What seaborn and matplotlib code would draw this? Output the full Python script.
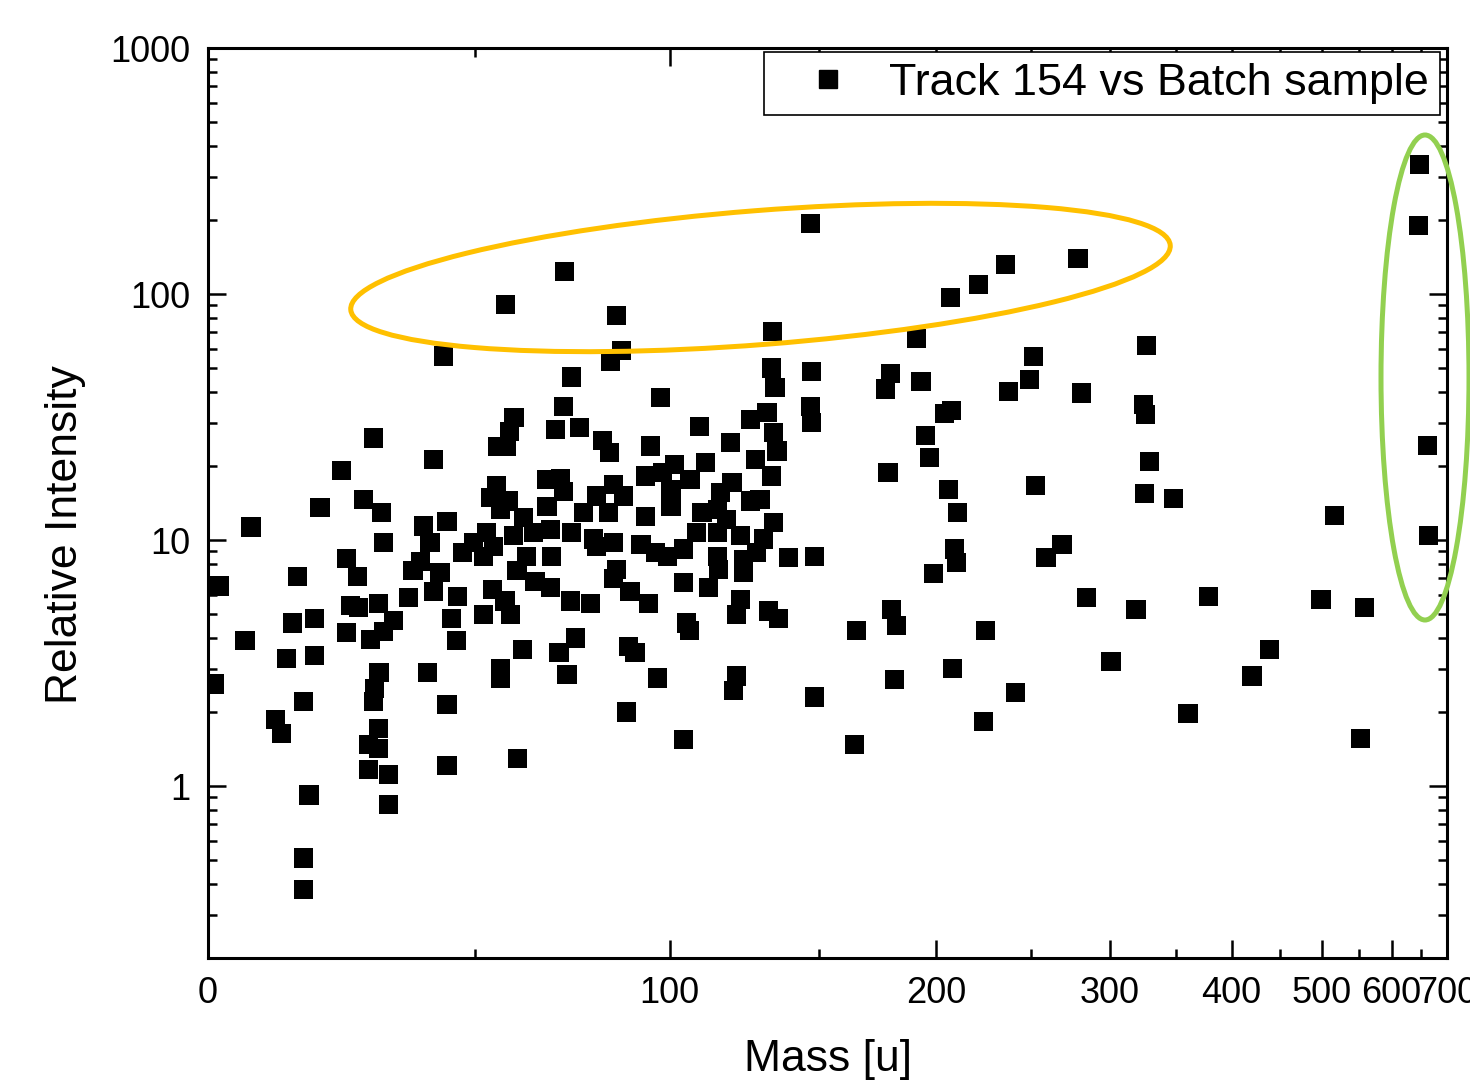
import numpy as np
import pandas as pd
import matplotlib
matplotlib.use("Agg")
import matplotlib.pyplot as plt
import seaborn as sns
from matplotlib.patches import Ellipse
from matplotlib.lines import Line2D
from matplotlib.ticker import FixedLocator, FixedFormatter, LogLocator, NullFormatter

# ---------------- data ----------------
series_label = "Track 154 vs Batch sample"
x_label = "Mass [u]"
y_label = "Relative Intensity"
x_ticks = [0, 100, 200, 300, 400, 500, 600, 700]
x_minor_ticks = [50, 150, 250, 350, 450, 550, 650]
y_ticks = [1, 10, 100, 1000]
y_tick_labels = ["1", "10", "100", "1000"]

# masses below 50 u
mass_a = [1.9, 1.0, 7.0, 6.0,
          29.0, 41.1, 23.0, 27.1, 30.6, 19.0, 31.0, 23.9, 25.9, 39.0, 44.0, 40.4,
          38.4, 36.9, 42.5, 41.1, 47.3, 46.2, 15.0, 36.0, 18.0, 14.1, 24.7, 26.1,
          30.0, 33.0, 31.0, 28.4, 23.9, 45.0, 46.1, 13.0, 18.0, 39.9, 30.1, 29.3,
          29.1, 16.0, 44.0, 11.1, 12.1, 30.0, 28.0, 30.0, 28.0, 32.0, 44.0, 17.0,
          32.0, 16.0, 16.0, 43.2]
int_a = [6.5, 2.6, 11.3, 3.9,
         26.0, 21.3, 19.2, 14.6, 12.9, 13.6, 9.8, 8.4, 7.1, 11.4, 11.9, 9.8,
         8.2, 7.5, 7.4, 6.2, 8.9, 5.9, 7.1, 5.85, 4.8, 4.6, 5.4, 5.3,
         5.5, 4.7, 4.25, 3.95, 4.2, 4.8, 3.9, 3.3, 3.4, 2.9, 2.9, 2.5,
         2.2, 2.2, 2.15, 1.87, 1.64, 1.72, 1.48, 1.42, 1.17, 1.11, 1.21, 0.92,
         0.84, 0.51, 0.38, 56.0]

# masses 50-100 u
mass_b = [71.2, 57.1, 85.0, 86.2, 83.2, 73.0, 71.0, 97.3, 59.0, 57.9, 55.1, 57.2,
          69.1, 75.1, 81.1, 82.9, 94.3, 55.0, 53.5, 57.7, 55.8, 66.9, 70.2, 71.0,
          66.9, 61.2, 84.1, 86.8, 79.6, 76.1, 82.7, 92.9, 92.9, 52.7, 49.7, 52.0,
          54.2, 58.9, 63.6, 67.7, 73.1, 78.7, 84.1, 91.7, 95.8, 62.0, 68.1, 79.6,
          59.7, 64.0, 67.7, 72.7, 77.9, 85.0, 84.1, 88.6, 93.8, 54.0, 56.9, 52.0,
          58.1, 61.0, 74.0, 69.9, 88.2, 90.0, 55.9, 55.9, 71.9, 96.3, 87.7, 59.9]
int_b = [123, 91, 82, 59, 53, 46, 35, 38, 31.5, 27.6, 24.0, 24.0,
         28.2, 28.6, 25.4, 22.6, 24.1, 16.7, 14.9, 14.4, 13.3, 17.6, 17.8, 15.8,
         13.7, 12.3, 16.8, 15.1, 15.1, 12.9, 12.9, 18.2, 12.5, 10.7, 9.8, 8.6,
         9.45, 10.4, 10.7, 11.05, 10.7, 10.1, 9.8, 9.6, 8.9, 8.6, 8.6, 9.45,
         7.5, 6.8, 6.4, 5.65, 5.5, 7.6, 7.0, 6.2, 5.5, 6.3, 5.65, 5.0,
         5.0, 3.6, 4.0, 3.5, 3.7, 3.5, 3.0, 2.75, 2.85, 2.75, 2.0, 1.29]

# masses 100-150 u
mass_c = [133.1, 132.9, 134.0, 147.4, 146.8, 147.4, 109.0, 131.2, 125.4, 133.5,
          134.7, 118.8, 127.1, 132.9, 119.4, 110.8, 101.3, 97.9, 100.4, 100.4,
          106.1, 115.6, 125.4, 128.8, 109.8, 114.6, 117.7, 133.5, 108.2, 114.6,
          122.1, 130.0, 104.2, 99.4, 114.6, 123.1, 127.7, 138.8, 148.4, 104.2,
          111.8, 115.0, 123.1, 122.1, 121.0, 131.7, 135.2, 105.1, 105.9, 121.0,
          119.9, 148.4, 104.0]
int_c = [70.6, 50, 41.6, 48.6, 35.0, 30.0, 29.0, 32.9, 30.9, 27.3,
         23.0, 24.9, 21.3, 18.2, 17.1, 20.6, 20.3, 18.8, 16.1, 13.7,
         17.6, 15.6, 14.4, 14.6, 12.9, 13.3, 12.1, 11.8, 10.7, 10.7,
         10.4, 10.1, 9.2, 8.6, 8.6, 8.35, 8.9, 8.5, 8.6, 6.7,
         6.4, 7.6, 7.4, 5.75, 5.0, 5.15, 4.8, 4.6, 4.3, 2.8,
         2.45, 2.3, 1.55]

# masses above 150 u
mass_d = [147.0, 207.1, 221.1, 235.3, 278.7, 190.7, 326.9, 251.1, 249.0, 237.1,
          179.1, 177.0, 192.9, 280.8, 324.8, 326.1, 207.6, 204.0, 194.9, 196.9,
          329.3, 178.1, 205.8, 252.4, 325.3, 348.6, 210.5, 208.9, 210.0, 198.6,
          268.5, 258.7, 284.4, 319.0, 164.8, 179.8, 181.7, 224.8, 207.9, 300.9,
          180.8, 240.8, 223.6, 163.9, 360.5,
          648.0, 646.2, 662.6, 664.5, 516.5, 378.6, 498.7, 558.3, 438.9, 420.2, 552.1]
int_d = [194, 97, 109, 132, 139, 66, 61.6, 55.8, 44.9, 40.3,
         47.4, 41.1, 44.1, 39.6, 35.6, 32.5, 33.7, 32.8, 26.5, 21.7,
         20.9, 18.8, 16.1, 16.7, 15.4, 14.8, 12.9, 9.2, 8.1, 7.3,
         9.6, 8.5, 5.85, 5.2, 4.3, 5.2, 4.5, 4.3, 3.0, 3.2,
         2.7, 2.4, 1.83, 1.48, 1.97,
         335, 190, 24.2, 10.4, 12.6, 5.9, 5.75, 5.3, 3.6, 2.8, 1.56]

df = pd.DataFrame({
    "mass": mass_a + mass_b + mass_c + mass_d,
    "intensity": int_a + int_b + int_c + int_d,
})

# ---------------- style ----------------
sns.set_theme(style="ticks")
plt.rcParams["font.family"] = ["Liberation Sans", "DejaVu Sans"]
plt.rcParams["text.color"] = "black"
plt.rcParams["axes.labelcolor"] = "black"
plt.rcParams["xtick.color"] = "black"
plt.rcParams["ytick.color"] = "black"

W, H = 1470, 1088
fig = plt.figure(figsize=(W / 100, H / 100), dpi=100)
fig.patch.set_facecolor("white")
ax = fig.add_axes([208 / W, 1 - 958 / H, 1239 / W, 910 / H])
ax.set_facecolor("white")

sns.scatterplot(data=df, x="mass", y="intensity", marker="s", s=190,
                color="black", edgecolor="none", linewidth=0, ax=ax,
                legend=False, zorder=3)

C = 273.0


def fwd(x):
    x = np.asarray(x, dtype=float)
    with np.errstate(divide="ignore", invalid="ignore"):
        return x / (x + C)


def inv(y):
    y = np.asarray(y, dtype=float)
    with np.errstate(divide="ignore", invalid="ignore"):
        return C * y / (1.0 - y)


ax.set_xscale("function", functions=(fwd, inv))
ax.set_yscale("log")
ax.set_xlim(0, 700)
ax.set_ylim(0.2, 1000)

ax.xaxis.set_major_locator(FixedLocator(x_ticks))
ax.xaxis.set_major_formatter(FixedFormatter([str(t) for t in x_ticks]))
ax.xaxis.set_minor_locator(FixedLocator(x_minor_ticks))
ax.xaxis.set_minor_formatter(NullFormatter())
ax.yaxis.set_major_locator(FixedLocator(y_ticks))
ax.yaxis.set_major_formatter(FixedFormatter(y_tick_labels))
ax.yaxis.set_minor_locator(LogLocator(base=10, subs=np.arange(2, 10)))
ax.yaxis.set_minor_formatter(NullFormatter())

ax.tick_params(which="both", direction="in", top=True, right=True,
               color="black", width=1.8, labelsize=26, pad=13,
               labelcolor="black")
ax.tick_params(which="major", length=13)
ax.tick_params(which="minor", length=6.5)
for s in ax.spines.values():
    s.set_linewidth(2.2)
    s.set_color("black")

ax.set_xlabel(x_label, fontsize=32, color="black")
ax.set_ylabel(y_label, fontsize=32, color="black")
ax.xaxis.set_label_coords(0.5, -0.089)
ax.yaxis.set_label_coords(-0.0985, 0.465)

handle = Line2D([0], [0], marker="s", color="black", linestyle="none",
                markersize=13)
leg = ax.legend(handles=[handle], labels=[series_label], loc="upper right",
                bbox_to_anchor=(0.9943, 0.9956), borderaxespad=0,
                frameon=True, fancybox=False, framealpha=1, edgecolor="black",
                fontsize=32.3, borderpad=0.24, handlelength=2.35,
                handletextpad=0.2)
leg.get_frame().set_linewidth(1.2)
for t in leg.get_texts():
    t.set_color("black")


def px(xp, yp):
    return (xp / 100.0, (H - yp) / 100.0)


orange = Ellipse(px(760.5, 277.5), width=8.22, height=1.34, angle=4.5,
                 fill=False, edgecolor="#FFC000", linewidth=3.6,
                 transform=fig.dpi_scale_trans, zorder=10)
green = Ellipse(px(1425, 377.5), width=0.88, height=4.85, angle=0,
                fill=False, edgecolor="#92D050", linewidth=3.6,
                transform=fig.dpi_scale_trans, zorder=10)
fig.add_artist(orange)
fig.add_artist(green)

fig.savefig("out.png", dpi=100)
